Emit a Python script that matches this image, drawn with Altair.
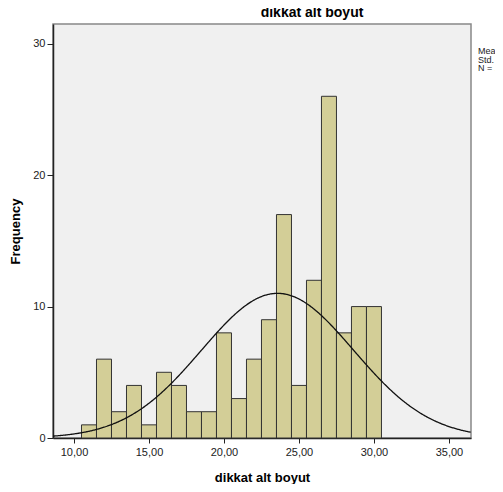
import altair as alt
import pandas as pd

# Data (bin width 1, centers 11..30)
bin_centers = [11, 12, 13, 14, 15, 16, 17, 18, 19, 20, 21, 22, 23, 24, 25, 26, 27, 28, 29, 30]
counts = [1, 6, 2, 4, 1, 5, 4, 2, 2, 8, 3, 6, 9, 17, 4, 12, 26, 8, 10, 10]
mean_val = 23.57
sd_val = 5.075
n_val = 140
bin_width = 1.0
stats_lines = ["Mean = 23,57", "Std. Dev. = 5,075", "N = 140"]

x_ticks = [10, 15, 20, 25, 30, 35]
y_ticks = [0, 10, 20, 30]
x_domain = [8.6, 36.47]
y_domain = [0, 31.5]

FONT = "Liberation Sans"
W, H = 418, 414

bars_df = pd.DataFrame({
    "start": [c - bin_width / 2 for c in bin_centers],
    "end": [c + bin_width / 2 for c in bin_centers],
    "count": counts,
})

xscale = alt.Scale(domain=x_domain, nice=False, zero=False)
yscale = alt.Scale(domain=y_domain, nice=False)

x_axis = alt.Axis(
    values=x_ticks,
    labelExpr="replace(format(datum.value, '.2f'), '.', ',')",
    title="dikkat alt boyut",
    titleFont=FONT, titleFontSize=13, titleFontWeight="bold", titleColor="black",
    titlePadding=14,
    labelFont=FONT, labelFontSize=11, labelColor="#222222", labelPadding=3,
    tickSize=5, tickColor="#222222", domainColor="#222222", domainWidth=1.5,
    grid=False,
)
y_axis = alt.Axis(
    values=y_ticks,
    title="Frequency",
    titleFont=FONT, titleFontSize=13, titleFontWeight="bold", titleColor="black",
    titlePadding=10,
    labelFont=FONT, labelFontSize=11, labelColor="#222222", labelPadding=2,
    tickSize=6, tickColor="#222222", domainColor="#222222", domainWidth=1.5,
    grid=False,
)

bars = alt.Chart(bars_df).mark_rect(
    fill="#D3CE97", stroke="#333333", strokeWidth=1
).encode(
    x=alt.X("start:Q", scale=xscale, axis=x_axis),
    x2="end:Q",
    y=alt.Y("count:Q", scale=yscale, axis=y_axis),
    y2=alt.datum(0),
)

curve = alt.Chart(alt.sequence(x_domain[0], x_domain[1] + 0.01, 0.05, as_="xv")).transform_calculate(
    yv=f"{n_val} * {bin_width} / ({sd_val} * sqrt(2 * PI)) * exp(-0.5 * pow((datum.xv - {mean_val}) / {sd_val}, 2))"
).mark_line(color="#111111", strokeWidth=1.3, clip=True).encode(
    x=alt.X("xv:Q", scale=xscale),
    y=alt.Y("yv:Q", scale=yscale),
)

stats_df = pd.DataFrame({"text": ["\n".join(stats_lines)]})
stats = alt.Chart(stats_df).mark_text(
    align="left", baseline="top", font=FONT, fontSize=9, color="#222222",
    lineBreak="\n", lineHeight=8.5,
).encode(
    text="text:N",
    x=alt.value(W + 7),
    y=alt.value(23),
)

chart = alt.layer(bars, curve, stats).properties(
    width=W,
    height=H,
    title=alt.Title("dikkat alt boyut", font=FONT, fontSize=14, fontWeight="bold",
                    color="black", anchor="middle", dx=50, offset=4),
    autosize=alt.AutoSizeParams(type="none"),
    padding={"left": 45, "top": 16, "right": 24, "bottom": 46},
).configure(
    background="white",
    view=alt.ViewConfig(fill="#F0F0F0", stroke="#888888", strokeWidth=1.5),
)

chart.save("out.html", embed_options={"renderer": "svg", "actions": False})
